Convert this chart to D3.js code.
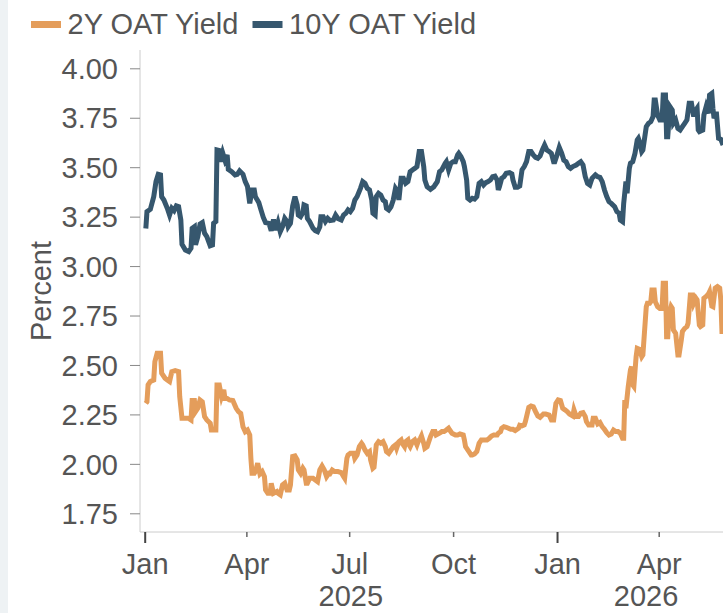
<!DOCTYPE html>
<html><head><meta charset="utf-8">
<script src="https://cdn.jsdelivr.net/npm/d3@7"></script>
<style>
html,body{margin:0;padding:0;background:#fff;}
svg{display:block;}
text{font-family:"Liberation Sans", Arial, Helvetica, sans-serif;}
</style></head><body>
<svg id="chart" width="723" height="613"></svg>
<script>
const seriesNames = ["2Y OAT Yield", "10Y OAT Yield"];
const seriesColors = ["#e49d5b", "#36576e"];
const yTicks = [1.75, 2.00, 2.25, 2.50, 2.75, 3.00, 3.25, 3.50, 3.75, 4.00];
const yTitle = "Percent";
const yearLabels = ["2025", "2026"];

const twoYear = [
["2025-01-02",2.306],["2025-01-03",2.314],["2025-01-04",2.399],["2025-01-06",2.416],["2025-01-09",2.424],
["2025-01-10",2.517],["2025-01-12",2.559],["2025-01-15",2.559],["2025-01-16",2.458],["2025-01-19",2.433],
["2025-01-21",2.424],["2025-01-23",2.416],["2025-01-25",2.466],["2025-01-28",2.471],["2025-01-31",2.466],
["2025-02-01",2.340],["2025-02-03",2.230],["2025-02-06",2.230],["2025-02-09",2.230],["2025-02-11",2.222],
["2025-02-12",2.320],["2025-02-14",2.320],["2025-02-15",2.264],["2025-02-17",2.281],["2025-02-19",2.323],
["2025-02-21",2.314],["2025-02-23",2.239],["2025-02-25",2.222],["2025-02-28",2.205],["2025-03-01",2.171],
["2025-03-03",2.171],["2025-03-05",2.171],["2025-03-06",2.399],["2025-03-08",2.399],["2025-03-10",2.340],
["2025-03-12",2.374],["2025-03-13",2.331],["2025-03-15",2.331],["2025-03-17",2.323],["2025-03-20",2.320],
["2025-03-23",2.281],["2025-03-25",2.264],["2025-03-27",2.255],["2025-03-29",2.188],["2025-03-31",2.163],
["2025-04-02",2.171],["2025-04-04",2.146],["2025-04-05",2.028],["2025-04-06",1.952],["2025-04-08",1.952],
["2025-04-09",1.961],["2025-04-11",2.003],["2025-04-13",1.949],["2025-04-15",1.961],["2025-04-17",1.935],
["2025-04-18",1.868],["2025-04-20",1.851],["2025-04-22",1.851],["2025-04-23",1.902],["2025-04-25",1.851],
["2025-04-28",1.860],["2025-04-29",1.851],["2025-05-01",1.843],["2025-05-03",1.893],["2025-05-05",1.902],
["2025-05-07",1.868],["2025-05-09",1.868],["2025-05-10",1.893],["2025-05-12",2.037],["2025-05-14",2.040],
["2025-05-16",2.020],["2025-05-17",1.969],["2025-05-19",1.952],["2025-05-21",1.978],["2025-05-22",1.969],
["2025-05-24",1.902],["2025-05-25",1.902],["2025-05-27",1.927],["2025-05-30",1.927],["2025-06-01",1.918],
["2025-06-03",1.910],["2025-06-05",1.969],["2025-06-07",1.989],["2025-06-09",1.969],["2025-06-11",1.935],
["2025-06-13",1.952],["2025-06-14",1.950],["2025-06-16",1.969],["2025-06-18",1.961],["2025-06-21",1.961],
["2025-06-24",1.956],["2025-06-26",1.936],["2025-06-27",1.927],["2025-06-29",2.028],["2025-06-30",2.045],
["2025-07-02",2.053],["2025-07-05",2.053],["2025-07-06",2.028],["2025-07-08",2.045],["2025-07-10",2.087],
["2025-07-12",2.104],["2025-07-13",2.096],["2025-07-15",2.070],["2025-07-17",2.053],["2025-07-19",2.062],
["2025-07-20",2.020],["2025-07-22",1.978],["2025-07-23",1.983],["2025-07-25",2.096],["2025-07-27",2.112],
["2025-07-29",2.104],["2025-07-31",2.112],["2025-08-02",2.087],["2025-08-03",2.062],["2025-08-05",2.053],
["2025-08-07",2.070],["2025-08-09",2.087],["2025-08-11",2.096],["2025-08-12",2.079],["2025-08-14",2.112],
["2025-08-16",2.121],["2025-08-17",2.104],["2025-08-19",2.087],["2025-08-20",2.112],["2025-08-22",2.121],
["2025-08-23",2.096],["2025-08-24",2.087],["2025-08-26",2.112],["2025-08-28",2.121],["2025-08-30",2.096],
["2025-08-31",2.112],["2025-09-02",2.129],["2025-09-03",2.141],["2025-09-05",2.104],["2025-09-06",2.079],
["2025-09-08",2.087],["2025-09-09",2.104],["2025-09-11",2.138],["2025-09-13",2.163],["2025-09-15",2.163],
["2025-09-16",2.146],["2025-09-19",2.155],["2025-09-21",2.163],["2025-09-23",2.163],["2025-09-25",2.171],
["2025-09-27",2.180],["2025-09-28",2.171],["2025-09-30",2.155],["2025-10-03",2.146],["2025-10-05",2.146],
["2025-10-07",2.151],["2025-10-10",2.146],["2025-10-11",2.121],["2025-10-12",2.087],["2025-10-15",2.062],
["2025-10-17",2.045],["2025-10-18",2.045],["2025-10-20",2.050],["2025-10-22",2.062],["2025-10-24",2.104],
["2025-10-26",2.121],["2025-10-28",2.121],["2025-10-31",2.121],["2025-11-02",2.129],["2025-11-04",2.141],
["2025-11-06",2.146],["2025-11-09",2.146],["2025-11-10",2.155],["2025-11-12",2.163],["2025-11-13",2.180],
["2025-11-15",2.188],["2025-11-17",2.185],["2025-11-19",2.180],["2025-11-21",2.175],["2025-11-23",2.175],
["2025-11-25",2.168],["2025-11-28",2.180],["2025-11-29",2.195],["2025-12-01",2.192],["2025-12-03",2.197],
["2025-12-04",2.214],["2025-12-07",2.286],["2025-12-09",2.293],["2025-12-11",2.289],["2025-12-13",2.264],
["2025-12-15",2.242],["2025-12-17",2.235],["2025-12-20",2.252],["2025-12-22",2.252],["2025-12-25",2.247],
["2025-12-27",2.222],["2025-12-29",2.222],["2025-12-31",2.306],["2026-01-02",2.323],["2026-01-04",2.320],
["2026-01-06",2.281],["2026-01-08",2.273],["2026-01-10",2.264],["2026-01-12",2.252],["2026-01-15",2.242],
["2026-01-16",2.273],["2026-01-18",2.239],["2026-01-20",2.239],["2026-01-22",2.256],["2026-01-24",2.259],
["2026-01-26",2.239],["2026-01-27",2.214],["2026-01-29",2.197],["2026-02-01",2.197],["2026-02-02",2.230],
["2026-02-04",2.230],["2026-02-06",2.202],["2026-02-08",2.209],["2026-02-10",2.188],["2026-02-12",2.175],
["2026-02-14",2.158],["2026-02-16",2.146],["2026-02-18",2.151],["2026-02-20",2.171],["2026-02-22",2.163],
["2026-02-24",2.163],["2026-02-26",2.155],["2026-02-28",2.129],["2026-03-01",2.129],["2026-03-02",2.323],
["2026-03-03",2.281],["2026-03-05",2.390],["2026-03-07",2.475],["2026-03-08",2.492],["2026-03-09",2.399],
["2026-03-10",2.391],["2026-03-12",2.542],["2026-03-13",2.584],["2026-03-15",2.579],["2026-03-17",2.542],
["2026-03-18",2.551],["2026-03-21",2.795],["2026-03-22",2.812],["2026-03-24",2.812],["2026-03-25",2.820],
["2026-03-26",2.879],["2026-03-28",2.879],["2026-03-29",2.820],["2026-03-31",2.795],["2026-04-02",2.786],
["2026-04-04",2.786],["2026-04-05",2.913],["2026-04-07",2.913],["2026-04-08",2.643],["2026-04-09",2.643],
["2026-04-10",2.744],["2026-04-12",2.795],["2026-04-13",2.786],["2026-04-14",2.677],["2026-04-16",2.660],
["2026-04-18",2.551],["2026-04-19",2.551],["2026-04-21",2.626],["2026-04-22",2.669],["2026-04-24",2.685],
["2026-04-26",2.694],["2026-04-27",2.711],["2026-04-29",2.854],["2026-05-01",2.854],["2026-05-02",2.812],
["2026-05-04",2.837],["2026-05-05",2.829],["2026-05-07",2.702],["2026-05-08",2.694],["2026-05-10",2.702],
["2026-05-11",2.837],["2026-05-13",2.846],["2026-05-15",2.859],["2026-05-16",2.871],["2026-05-18",2.798],
["2026-05-19",2.795],["2026-05-21",2.888],["2026-05-23",2.896],["2026-05-25",2.888],["2026-05-26",2.829],
["2026-05-27",2.669],["2026-05-28",2.669]
];

const tenYear = [
["2025-01-02",3.190],["2025-01-03",3.275],["2025-01-06",3.287],["2025-01-09",3.351],["2025-01-11",3.427],
["2025-01-13",3.464],["2025-01-15",3.461],["2025-01-16",3.351],["2025-01-18",3.334],["2025-01-21",3.292],
["2025-01-23",3.258],["2025-01-25",3.292],["2025-01-27",3.280],["2025-01-29",3.304],["2025-01-31",3.300],
["2025-02-02",3.233],["2025-02-03",3.110],["2025-02-06",3.081],["2025-02-09",3.073],["2025-02-11",3.090],
["2025-02-12",3.191],["2025-02-14",3.199],["2025-02-15",3.107],["2025-02-17",3.149],["2025-02-19",3.213],
["2025-02-21",3.220],["2025-02-23",3.166],["2025-02-25",3.149],["2025-02-28",3.103],["2025-03-02",3.107],
["2025-03-03",3.216],["2025-03-05",3.225],["2025-03-06",3.587],["2025-03-08",3.584],["2025-03-09",3.528],
["2025-03-11",3.573],["2025-03-13",3.536],["2025-03-15",3.562],["2025-03-16",3.489],["2025-03-19",3.477],
["2025-03-22",3.461],["2025-03-24",3.464],["2025-03-26",3.481],["2025-03-29",3.464],["2025-03-31",3.427],
["2025-04-02",3.402],["2025-04-04",3.317],["2025-04-06",3.385],["2025-04-08",3.385],["2025-04-09",3.351],
["2025-04-12",3.321],["2025-04-14",3.283],["2025-04-16",3.246],["2025-04-18",3.220],["2025-04-21",3.216],
["2025-04-23",3.179],["2025-04-25",3.236],["2025-04-27",3.182],["2025-04-29",3.220],["2025-05-01",3.174],
["2025-05-03",3.199],["2025-05-05",3.241],["2025-05-07",3.225],["2025-05-08",3.199],["2025-05-10",3.216],
["2025-05-12",3.304],["2025-05-14",3.351],["2025-05-16",3.309],["2025-05-17",3.258],["2025-05-19",3.250],
["2025-05-21",3.270],["2025-05-22",3.309],["2025-05-24",3.304],["2025-05-25",3.241],["2025-05-27",3.225],
["2025-05-30",3.191],["2025-06-01",3.179],["2025-06-03",3.174],["2025-06-05",3.199],["2025-06-06",3.250],
["2025-06-08",3.250],["2025-06-10",3.225],["2025-06-12",3.241],["2025-06-14",3.230],["2025-06-17",3.233],
["2025-06-19",3.258],["2025-06-21",3.241],["2025-06-24",3.233],["2025-06-26",3.258],["2025-06-28",3.267],
["2025-06-30",3.284],["2025-07-02",3.275],["2025-07-04",3.292],["2025-07-06",3.334],["2025-07-08",3.351],
["2025-07-11",3.393],["2025-07-13",3.427],["2025-07-15",3.418],["2025-07-17",3.393],["2025-07-19",3.385],
["2025-07-21",3.334],["2025-07-22",3.267],["2025-07-24",3.258],["2025-07-25",3.351],["2025-07-27",3.368],
["2025-07-29",3.359],["2025-07-31",3.334],["2025-08-02",3.326],["2025-08-03",3.292],["2025-08-05",3.284],
["2025-08-07",3.300],["2025-08-09",3.334],["2025-08-11",3.393],["2025-08-13",3.376],["2025-08-14",3.334],
["2025-08-16",3.444],["2025-08-18",3.444],["2025-08-20",3.418],["2025-08-22",3.427],["2025-08-24",3.477],
["2025-08-26",3.486],["2025-08-28",3.494],["2025-08-30",3.503],["2025-09-01",3.579],["2025-09-03",3.579],
["2025-09-05",3.503],["2025-09-06",3.435],["2025-09-08",3.401],["2025-09-10",3.393],["2025-09-11",3.388],
["2025-09-14",3.401],["2025-09-15",3.410],["2025-09-17",3.427],["2025-09-19",3.477],["2025-09-21",3.486],
["2025-09-24",3.520],["2025-09-25",3.528],["2025-09-27",3.486],["2025-09-29",3.520],["2025-10-01",3.528],
["2025-10-03",3.528],["2025-10-05",3.562],["2025-10-06",3.570],["2025-10-08",3.553],["2025-10-10",3.528],
["2025-10-11",3.503],["2025-10-13",3.435],["2025-10-14",3.343],["2025-10-16",3.334],["2025-10-18",3.343],
["2025-10-20",3.339],["2025-10-22",3.351],["2025-10-24",3.418],["2025-10-26",3.427],["2025-10-28",3.410],
["2025-10-30",3.422],["2025-11-01",3.427],["2025-11-03",3.435],["2025-11-05",3.452],["2025-11-07",3.455],
["2025-11-09",3.435],["2025-11-10",3.385],["2025-11-11",3.401],["2025-11-13",3.444],["2025-11-15",3.452],
["2025-11-17",3.469],["2025-11-20",3.472],["2025-11-22",3.466],["2025-11-23",3.435],["2025-11-25",3.398],
["2025-11-27",3.398],["2025-11-29",3.405],["2025-12-01",3.486],["2025-12-03",3.503],["2025-12-05",3.528],
["2025-12-07",3.579],["2025-12-09",3.579],["2025-12-11",3.562],["2025-12-13",3.550],["2025-12-15",3.545],
["2025-12-17",3.557],["2025-12-19",3.587],["2025-12-21",3.612],["2025-12-23",3.587],["2025-12-25",3.579],
["2025-12-27",3.570],["2025-12-29",3.528],["2025-12-30",3.528],["2026-01-01",3.562],["2026-01-03",3.600],
["2026-01-05",3.573],["2026-01-07",3.536],["2026-01-09",3.528],["2026-01-11",3.503],["2026-01-13",3.494],
["2026-01-15",3.503],["2026-01-18",3.511],["2026-01-20",3.520],["2026-01-22",3.528],["2026-01-24",3.511],
["2026-01-26",3.452],["2026-01-28",3.418],["2026-01-30",3.410],["2026-02-01",3.444],["2026-02-04",3.461],
["2026-02-06",3.452],["2026-02-08",3.449],["2026-02-10",3.427],["2026-02-12",3.385],["2026-02-14",3.351],
["2026-02-16",3.326],["2026-02-18",3.317],["2026-02-21",3.300],["2026-02-23",3.275],["2026-02-25",3.267],
["2026-02-26",3.233],["2026-02-28",3.225],["2026-03-01",3.317],["2026-03-03",3.427],["2026-03-04",3.368],
["2026-03-06",3.494],["2026-03-07",3.520],["2026-03-09",3.528],["2026-03-11",3.570],["2026-03-13",3.638],
["2026-03-14",3.646],["2026-03-15",3.629],["2026-03-17",3.579],["2026-03-18",3.587],["2026-03-21",3.705],
["2026-03-23",3.722],["2026-03-25",3.730],["2026-03-27",3.756],["2026-03-28",3.840],["2026-03-29",3.840],
["2026-03-31",3.764],["2026-04-02",3.739],["2026-04-04",3.739],["2026-04-05",3.865],["2026-04-07",3.865],
["2026-04-08",3.654],["2026-04-09",3.654],["2026-04-11",3.806],["2026-04-13",3.789],["2026-04-14",3.722],
["2026-04-16",3.739],["2026-04-18",3.696],["2026-04-20",3.688],["2026-04-22",3.705],["2026-04-24",3.722],
["2026-04-26",3.739],["2026-04-28",3.823],["2026-04-30",3.823],["2026-05-02",3.756],["2026-05-03",3.781],
["2026-05-05",3.798],["2026-05-06",3.688],["2026-05-07",3.680],["2026-05-10",3.688],["2026-05-11",3.764],
["2026-05-13",3.806],["2026-05-15",3.772],["2026-05-16",3.865],["2026-05-18",3.873],["2026-05-19",3.798],
["2026-05-20",3.747],["2026-05-22",3.781],["2026-05-24",3.646],["2026-05-26",3.641],["2026-05-28",3.612]
];

const W = 723, H = 613;
const plotLeft = 140, plotRight = 735, plotTop = 50, plotBottom = 532;
const textColor = "#555";
const fontSize = 29;

const svg = d3.select("#chart");
svg.append("rect").attr("x", 0).attr("y", 0).attr("width", 8).attr("height", H).attr("fill", "#eef2f4");

const parse = d3.utcParse("%Y-%m-%d");
const x = d3.scaleUtc().domain([parse("2025-01-01"), parse("2026-04-01")]).range([144.7, 658.7]);
const y = d3.scaleLinear().domain([1.75, 4]).range([513.3, 68.3]);

// axes domain lines
svg.append("line").attr("x1", plotLeft).attr("x2", W).attr("y1", plotBottom).attr("y2", plotBottom)
  .attr("stroke", "#cccccc").attr("stroke-width", 1);
svg.append("line").attr("x1", plotLeft).attr("x2", plotLeft).attr("y1", plotTop).attr("y2", plotBottom)
  .attr("stroke", "#cccccc").attr("stroke-width", 1);

// y axis
const yAxis = svg.append("g").attr("transform", `translate(${plotLeft},0)`)
  .call(d3.axisLeft(y).tickValues(yTicks).tickFormat(d3.format(".2f")).tickSize(10).tickPadding(12).tickSizeOuter(0));
yAxis.select(".domain").remove();
yAxis.selectAll(".tick line").attr("stroke", "#888").attr("stroke-width", 1);
yAxis.selectAll(".tick text").attr("fill", textColor).style("font-size", fontSize + "px")
  .attr("font-family", null).attr("dy", "0.35em");

// x axis
const xAxis = svg.append("g").attr("transform", `translate(0,${plotBottom})`)
  .call(d3.axisBottom(x).ticks(d3.utcMonth.every(3)).tickFormat(d3.utcFormat("%b")).tickSize(5).tickPadding(16).tickSizeOuter(0));
xAxis.select(".domain").remove();
xAxis.selectAll(".tick line")
  .attr("stroke", d => d.getUTCMonth() === 0 ? "#444" : "#666")
  .attr("stroke-width", d => d.getUTCMonth() === 0 ? 2 : 1.5)
  .attr("y2", d => d.getUTCMonth() === 0 ? 11 : 5);
xAxis.selectAll(".tick text").attr("fill", textColor).style("font-size", fontSize + "px").attr("font-family", null);

// year labels centered on each year's span within the domain
const domStart = x.invert(plotLeft), domEnd = x.invert(plotRight);
svg.append("g").selectAll("text").data(yearLabels).join("text")
  .attr("x", d => {
    const s = parse(d + "-01-01"), e = parse((+d + 1) + "-01-01");
    const a = s < domStart ? domStart : s, b = e > domEnd ? domEnd : e;
    return (x(a) + x(b)) / 2;
  })
  .attr("y", 606).attr("text-anchor", "middle").attr("fill", textColor)
  .style("font-size", fontSize + "px").text(d => d);

// y title
svg.append("text").attr("transform", "translate(50.5,291) rotate(-90)").attr("text-anchor", "middle")
  .attr("fill", textColor).style("font-size", fontSize + "px").text(yTitle);

// lines
const line = d3.line().x(d => x(parse(d[0]))).y(d => y(d[1]));
[twoYear, tenYear].forEach((s, i) => {
  svg.append("path").datum(s).attr("d", line).attr("fill", "none")
    .attr("stroke", seriesColors[i]).attr("stroke-width", 5);
});

// legend
const legendX = [31, 252.5];
const lg = svg.append("g").selectAll("g").data(seriesNames).join("g")
  .attr("transform", (d, i) => `translate(${legendX[i]},0)`);
lg.append("rect").attr("x", 0).attr("y", 21).attr("width", 30).attr("height", 7)
  .attr("fill", (d, i) => seriesColors[i]);
lg.append("text").attr("x", 36.5).attr("y", 34).attr("fill", textColor)
  .style("font-size", fontSize + "px").text(d => d);
</script>
</body></html>
